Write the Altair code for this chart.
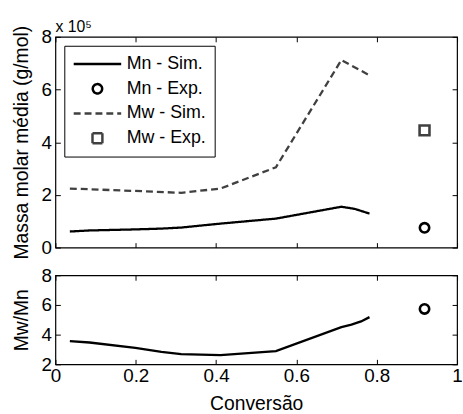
import altair as alt
import pandas as pd

SERIES = ["Mn - Sim.", "Mn - Exp.", "Mw - Sim.", "Mw - Exp."]

# Top panel values (x 1e5 g/mol)
mn_sim_x = [0.036, 0.085, 0.199, 0.264, 0.313, 0.411, 0.549, 0.712, 0.745, 0.782]
mn_sim_y = [0.61, 0.65, 0.69, 0.72, 0.76, 0.91, 1.10, 1.55, 1.47, 1.29]
mw_sim_x = [0.036, 0.199, 0.313, 0.411, 0.549, 0.712, 0.782]
mw_sim_y = [2.24, 2.15, 2.08, 2.24, 3.05, 7.12, 6.54]
exp_x = [0.919]
mn_exp_y = [0.75]
mw_exp_y = [4.45]

# Bottom panel values (Mw/Mn)
ratio_x = [0.036, 0.085, 0.199, 0.264, 0.313, 0.411, 0.549, 0.712, 0.737, 0.761, 0.782]
ratio_y = [3.56, 3.47, 3.11, 2.84, 2.69, 2.62, 2.89, 4.51, 4.67, 4.89, 5.18]
ratio_exp_y = [5.73]

x_ticks = [0, 0.2, 0.4, 0.6, 0.8, 1]
top_y_ticks = [0, 2, 4, 6, 8]
bot_y_ticks = [2, 4, 6, 8]

sim_df = pd.DataFrame(
    {"conv": mn_sim_x + mw_sim_x,
     "val": mn_sim_y + mw_sim_y,
     "series": [SERIES[0]] * len(mn_sim_x) + [SERIES[2]] * len(mw_sim_x)}
)
exp_df = pd.DataFrame(
    {"conv": exp_x + exp_x,
     "val": mn_exp_y + mw_exp_y,
     "series": [SERIES[1]] * len(exp_x) + [SERIES[3]] * len(exp_x)}
)
ratio_df = pd.DataFrame({"conv": ratio_x, "val": ratio_y})
ratio_exp_df = pd.DataFrame({"conv": exp_x, "val": ratio_exp_y})

W, H_TOP, H_BOT = 406, 213, 90
TICK = 5
DARK = "#404040"

color_scale = alt.Scale(domain=SERIES, range=["black", "black", DARK, DARK])
dash_scale = alt.Scale(domain=SERIES, range=[[1, 0], [1, 0], [7, 4], [1, 0]])
shape_scale = alt.Scale(domain=SERIES, range=["stroke", "circle", "stroke", "square"])
size_scale = alt.Scale(type="ordinal", domain=SERIES, range=[2304, 90, 2304, 100])

legend = alt.Legend(
    title=None, orient="none", legendX=9, legendY=9,
    labelFontSize=18, labelColor="black", labelOffset=4,
    fillColor="white", strokeColor="black", padding=8,
    rowPadding=4, clipHeight=21,
    symbolStrokeWidth=2.5, symbolFillColor="transparent",
)


def xaxis(orient, labels, title=None):
    return alt.Axis(orient=orient, labels=labels, title=title, values=x_ticks,
                    tickSize=TICK, offset=-TICK, domain=False, grid=False,
                    format="~g", labelFlush=False, labelPadding=2,
                    titlePadding=10)


def yaxis(orient, labels, values, title=None):
    return alt.Axis(orient=orient, labels=labels, title=title, values=values,
                    tickSize=TICK, offset=-TICK, domain=False, grid=False,
                    labelFlush=False, labelPadding=4, titlePadding=10)


xs = alt.Scale(domain=[0, 1], nice=False, zero=False)
ys_top = alt.Scale(domain=[0, 8], nice=False)
ys_bot = alt.Scale(domain=[2, 8], nice=False, zero=False)

top_lines = alt.Chart(sim_df).mark_line(strokeWidth=2.3).encode(
    x=alt.X("conv:Q", scale=xs, axis=xaxis("bottom", False)),
    y=alt.Y("val:Q", scale=ys_top,
            axis=yaxis("left", True, top_y_ticks, "Massa molar média (g/mol)")),
    color=alt.Color("series:N", scale=color_scale, legend=legend),
    strokeDash=alt.StrokeDash("series:N", scale=dash_scale),
    detail="series:N",
)
top_points = alt.Chart(exp_df).mark_point(filled=False, strokeWidth=2.6, opacity=1).encode(
    x=alt.X("conv:Q", scale=xs, axis=xaxis("top", False)),
    y=alt.Y("val:Q", scale=ys_top, axis=yaxis("right", False, top_y_ticks)),
    color=alt.Color("series:N", scale=color_scale),
    shape=alt.Shape("series:N", scale=shape_scale),
    size=alt.Size("series:N", scale=size_scale),
)
top = alt.layer(top_lines, top_points).resolve_axis(
    x="independent", y="independent"
).properties(width=W, height=H_TOP)

bot_line = alt.Chart(ratio_df).mark_line(strokeWidth=2.3, color="black").encode(
    x=alt.X("conv:Q", scale=xs, axis=xaxis("bottom", True, "Conversão")),
    y=alt.Y("val:Q", scale=ys_bot, axis=yaxis("left", True, bot_y_ticks, "Mw/Mn")),
)
bot_point = alt.Chart(ratio_exp_df).mark_point(
    filled=False, strokeWidth=2.6, color="black", size=90, shape="circle", opacity=1
).encode(
    x=alt.X("conv:Q", scale=xs, axis=xaxis("top", False)),
    y=alt.Y("val:Q", scale=ys_bot, axis=yaxis("right", False, bot_y_ticks)),
)
bot = alt.layer(bot_line, bot_point).resolve_axis(
    x="independent", y="independent"
).properties(width=W, height=H_BOT)

chart = alt.vconcat(top, bot, spacing=28, bounds="flush").properties(
    title=alt.Title("x 10⁵", anchor="start", fontSize=16, fontWeight="normal",
                    color="black", offset=-10, frame="group"),
    padding={"left": 10, "top": 16, "right": 0, "bottom": 0},
).configure(
    font="Liberation Sans",
).configure_view(
    stroke="black", strokeWidth=1.2,
).configure_axis(
    labelFontSize=19, titleFontSize=19.5, titleFontWeight="normal",
    labelColor="black", titleColor="black", tickColor="black", tickWidth=1,
)

chart.save("out.html", embed_options={"renderer": "svg", "actions": False})
